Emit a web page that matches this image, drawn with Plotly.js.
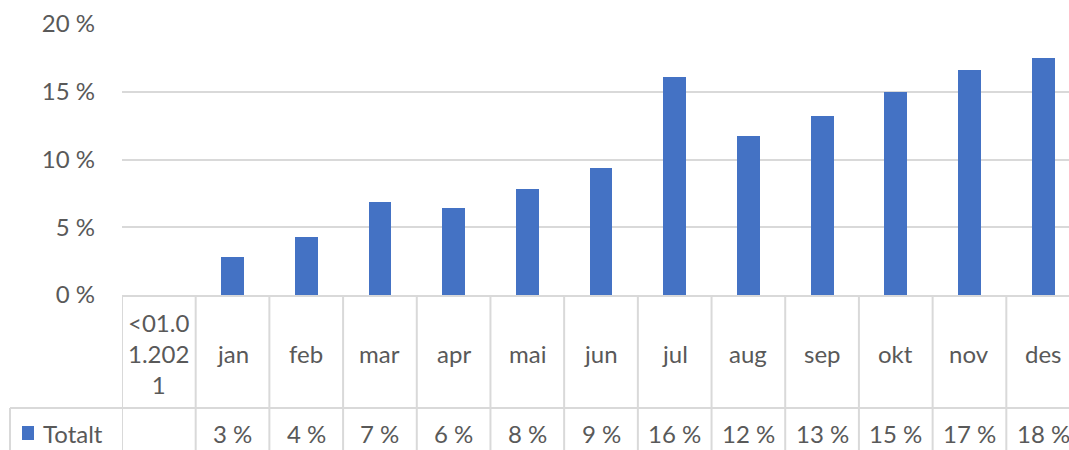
<!DOCTYPE html>
<html>
<head>
<meta charset="utf-8">
<script src="https://cdn.plot.ly/plotly-3.0.1.min.js"></script>
<style>
html,body{margin:0;padding:0;overflow:hidden;background:#fff;}
#chart{width:1080px;height:450px;}
</style>
</head>
<body>
<div id="chart"></div>
<script>
// Data
var categoryLabels = ["<01.0<br>1.202<br>1", "jan", "feb", "mar", "apr", "mai", "jun", "jul", "aug", "sep", "okt", "nov", "des"];
var totaltValues = [null, 2.8, 4.3, 6.9, 6.4, 7.8, 9.4, 16.1, 11.7, 13.2, 15.0, 16.6, 17.5];
var tableValues = ["", "3 %", "4 %", "7 %", "6 %", "8 %", "9 %", "16 %", "12 %", "13 %", "15 %", "17 %", "18 %"];
var seriesName = "Totalt";
var yTicks = [0, 5, 10, 15, 20];
var yTickLabels = ["0 %", "5 %", "10 %", "15 %", "20 %"];

var textColor = "#595959";
var gridColor = "#d9d9d9";
var barColor = "#4472C4";
var fontFamily = "Lato, 'Open Sans', sans-serif";
var fontSize = 24;

var xIdx = categoryLabels.map(function(_, i){ return i; });

var trace = {
  type: "bar",
  x: xIdx,
  y: totaltValues,
  width: 0.31,
  marker: {color: barColor, line: {width: 0}},
  name: seriesName,
  hoverinfo: "none"
};

var plotH = 271; // pixel height of plot area
function py(pixelBelowAxis){ return -pixelBelowAxis / plotH; }

var shapes = [];
var annotations = [];
for (var i = 0; i <= categoryLabels.length; i++) {
  shapes.push({type: "line", xref: "x", yref: "paper", x0: i - 0.5, x1: i - 0.5, y0: 0, y1: py(160), line: {color: gridColor, width: 2}});
}
shapes.push({type: "line", xref: "paper", yref: "paper", x0: -112/958, x1: 1.02, y0: py(113), y1: py(113), line: {color: gridColor, width: 2}});
shapes.push({type: "line", xref: "paper", yref: "paper", x0: -112/958, x1: -112/958, y0: py(113), y1: py(160), line: {color: gridColor, width: 2}});
shapes.push({type: "rect", xref: "paper", yref: "paper", x0: -100/958, x1: -88/958, y0: py(145), y1: py(131), fillcolor: barColor, line: {width: 0}});

categoryLabels.forEach(function(lab, i){
  annotations.push({xref: "x", yref: "paper", x: i, y: py(58), text: lab, showarrow: false,
    xanchor: "center", yanchor: "middle", font: {family: fontFamily, size: fontSize, color: textColor}});
  annotations.push({xref: "x", yref: "paper", x: i, y: py(138), text: tableValues[i], showarrow: false,
    xanchor: "center", yanchor: "middle", font: {family: fontFamily, size: fontSize, color: textColor}});
});
annotations.push({xref: "paper", yref: "paper", x: -81/958, y: py(138), text: seriesName, showarrow: false,
  xanchor: "left", yanchor: "middle", font: {family: fontFamily, size: fontSize, color: textColor}});

var layout = {
  width: 1080, height: 450,
  margin: {l: 122, r: 0, t: 24, b: 155, pad: 0},
  paper_bgcolor: "#fff", plot_bgcolor: "#fff",
  showlegend: false,
  bargap: 0,
  xaxis: {
    type: "linear", range: [-0.5, 12.5], showticklabels: false, showgrid: false,
    zeroline: false, showline: true, linecolor: gridColor, linewidth: 2, ticks: ""
  },
  yaxis: {
    range: [0, 20], tickmode: "array", tickvals: yTicks, ticktext: yTickLabels, showgrid: true, gridcolor: gridColor, gridwidth: 2,
    zeroline: false, showline: false, ticks: "", ticklabelstandoff: 26,
    tickfont: {family: fontFamily, size: fontSize, color: textColor}
  },
  shapes: shapes,
  annotations: annotations
};

Plotly.newPlot("chart", [trace], layout, {staticPlot: true, displayModeBar: false});
</script>
</body>
</html>
